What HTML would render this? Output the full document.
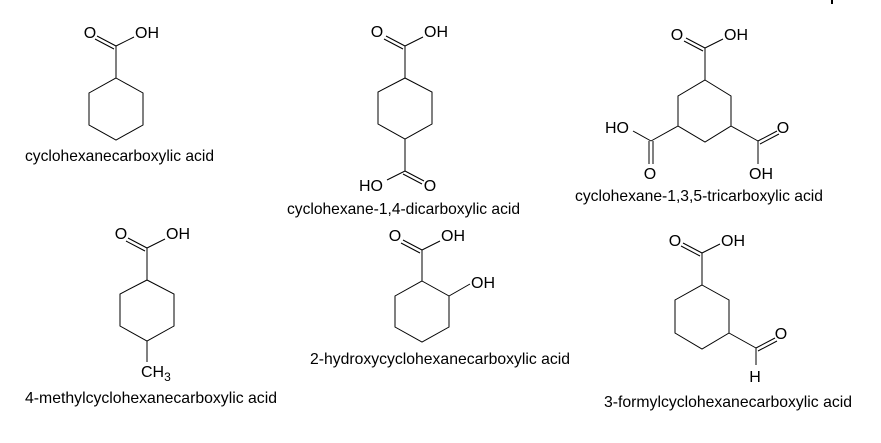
<!DOCTYPE html>
<html><head><meta charset="utf-8"><style>
html,body{margin:0;padding:0;background:#fff;width:881px;height:443px;overflow:hidden}
svg{display:block}
text{font-family:"Liberation Sans",Arial,sans-serif;font-size:16px;fill:#000}
.l{font-size:16px}
line,polyline,polygon{stroke:#000;stroke-width:1;fill:none}
</style></head><body>
<svg width="881" height="443" viewBox="0 0 881 443">
<!-- Mol 1 -->
<polygon points="116,78 143,93 143,125 116,140 89,125 89,93"/>
<line x1="116" y1="78" x2="116" y2="46"/>
<line x1="116" y1="46" x2="97" y2="36"/><line x1="114" y1="49" x2="95" y2="39"/>
<line x1="116" y1="46" x2="134" y2="37"/>
<text x="90" y="38" text-anchor="middle">O</text>
<text x="135" y="38">OH</text>
<text class="l" x="25" y="161" textLength="189" lengthAdjust="spacingAndGlyphs">cyclohexanecarboxylic acid</text>

<!-- Mol 2 -->
<polygon points="405,78 432,92 432,124 405,139 378,124 378,92"/>
<line x1="405" y1="78" x2="405" y2="46"/>
<line x1="405" y1="46" x2="386" y2="36"/><line x1="403" y1="49" x2="384" y2="39"/>
<line x1="405" y1="46" x2="423" y2="37"/>
<text x="377" y="37" text-anchor="middle">O</text>
<text x="424" y="37">OH</text>
<line x1="405" y1="139" x2="405" y2="171"/>
<line x1="405" y1="171" x2="387" y2="180"/>
<line x1="405" y1="171" x2="424" y2="181"/><line x1="403" y1="174" x2="422" y2="184"/>
<text x="359" y="191">HO</text>
<text x="430" y="191" text-anchor="middle">O</text>
<text class="l" x="287" y="214" textLength="233" lengthAdjust="spacingAndGlyphs">cyclohexane-1,4-dicarboxylic acid</text>

<!-- Mol 3 -->
<polygon points="705,80 731,96 731,126 705,142 678,126 678,96"/>
<line x1="705" y1="80" x2="705" y2="48"/>
<line x1="705" y1="48" x2="686" y2="38"/><line x1="703" y1="51" x2="684" y2="41"/>
<line x1="705" y1="48" x2="723" y2="39"/>
<text x="677" y="40" text-anchor="middle">O</text>
<text x="724" y="40">OH</text>
<line x1="678" y1="126" x2="651" y2="141"/>
<line x1="651" y1="141" x2="633" y2="131"/>
<line x1="649" y1="141" x2="649" y2="164"/><line x1="653" y1="141" x2="653" y2="164"/>
<text x="605" y="133">HO</text>
<text x="650" y="179" text-anchor="middle">O</text>
<line x1="731" y1="126" x2="758" y2="141"/>
<line x1="758" y1="141" x2="777" y2="131"/><line x1="760" y1="144" x2="779" y2="134"/>
<line x1="758" y1="141" x2="758" y2="164"/>
<text x="783" y="133" text-anchor="middle">O</text>
<text x="749" y="179">OH</text>
<text class="l" x="575" y="201" textLength="248" lengthAdjust="spacingAndGlyphs">cyclohexane-1,3,5-tricarboxylic acid</text>
<line x1="832" y1="0" x2="832" y2="4" style="stroke-width:2"/>

<!-- Mol 4 -->
<polygon points="147,280 174,294 174,326 147,341 120,326 120,294"/>
<line x1="147" y1="280" x2="147" y2="248"/>
<line x1="147" y1="248" x2="128" y2="238"/><line x1="145" y1="251" x2="126" y2="241"/>
<line x1="147" y1="248" x2="165" y2="239"/>
<text x="121" y="239" text-anchor="middle">O</text>
<text x="166" y="239">OH</text>
<line x1="147" y1="341" x2="147" y2="362"/>
<text x="141" y="377">CH<tspan font-size="12" dy="4">3</tspan></text>
<text class="l" x="25" y="403" textLength="252" lengthAdjust="spacingAndGlyphs">4-methylcyclohexanecarboxylic acid</text>

<!-- Mol 5 -->
<polygon points="422,281 449,296 449,327 422,342 395,327 395,296"/>
<line x1="422" y1="281" x2="422" y2="250"/>
<line x1="422" y1="250" x2="403" y2="240"/><line x1="420" y1="253" x2="401" y2="243"/>
<line x1="422" y1="250" x2="440" y2="241"/>
<text x="395" y="241" text-anchor="middle">O</text>
<text x="441" y="241">OH</text>
<line x1="449" y1="296" x2="470" y2="284"/>
<text x="471" y="288">OH</text>
<text class="l" x="310" y="364" textLength="260" lengthAdjust="spacingAndGlyphs">2-hydroxycyclohexanecarboxylic acid</text>

<!-- Mol 6 -->
<polygon points="702,285 729,300 729,333 702,349 675,333 675,300"/>
<line x1="702" y1="285" x2="702" y2="253"/>
<line x1="702" y1="253" x2="683" y2="243"/><line x1="700" y1="256" x2="681" y2="246"/>
<line x1="702" y1="253" x2="720" y2="244"/>
<text x="675" y="246" text-anchor="middle">O</text>
<text x="721" y="246">OH</text>
<line x1="729" y1="333" x2="756" y2="348"/>
<line x1="756" y1="348" x2="775" y2="338"/><line x1="758" y1="351" x2="777" y2="341"/>
<line x1="756" y1="348" x2="756" y2="365"/>
<text x="781" y="339" text-anchor="middle">O</text>
<text x="755" y="382" text-anchor="middle">H</text>
<text class="l" x="604" y="407" textLength="248" lengthAdjust="spacingAndGlyphs">3-formylcyclohexanecarboxylic acid</text>
</svg>
</body></html>
